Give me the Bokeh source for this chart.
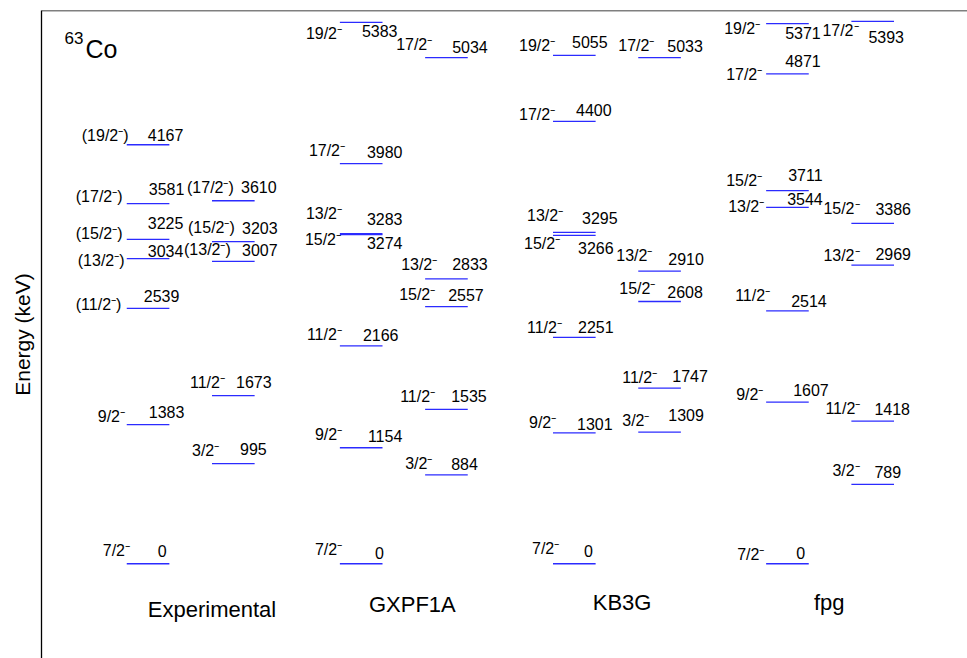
from bokeh.plotting import figure
from bokeh.models import Range1d, Span, ColumnDataSource
from bokeh.core.properties import value
from bokeh.embed import file_html
from bokeh.resources import INLINE

# ---------------- data ----------------
models = ["Experimental", "GXPF1A", "KB3G", "fpg"]

exp_energy = [0, 1383, 2539, 3034, 3225, 3581, 4167, 995, 1673, 3007, 3203, 3610]
exp_spin = ["7/2⁻", "9/2⁻", "(11/2⁻)", "(13/2⁻)", "(15/2⁻)", "(17/2⁻)", "(19/2⁻)",
            "3/2⁻", "11/2⁻", "(13/2⁻)", "(15/2⁻)", "(17/2⁻)"]
exp_column = [0, 0, 0, 0, 0, 0, 0, 1, 1, 1, 1, 1]

gx_energy = [0, 1154, 2166, 3274, 3283, 3980, 5383, 884, 1535, 2557, 2833, 5034]
gx_spin = ["7/2⁻", "9/2⁻", "11/2⁻", "15/2⁻", "13/2⁻", "17/2⁻", "19/2⁻",
           "3/2⁻", "11/2⁻", "15/2⁻", "13/2⁻", "17/2⁻"]
gx_column = [0, 0, 0, 0, 0, 0, 0, 1, 1, 1, 1, 1]

kb_energy = [0, 1301, 2251, 3266, 3295, 4400, 5055, 1309, 1747, 2608, 2910, 5033]
kb_spin = ["7/2⁻", "9/2⁻", "11/2⁻", "15/2⁻", "13/2⁻", "17/2⁻", "19/2⁻",
           "3/2⁻", "11/2⁻", "15/2⁻", "13/2⁻", "17/2⁻"]
kb_column = [0, 0, 0, 0, 0, 0, 0, 1, 1, 1, 1, 1]

fpg_energy = [0, 1607, 2514, 3544, 3711, 4871, 5371, 789, 1418, 2969, 3386, 5393]
fpg_spin = ["7/2⁻", "9/2⁻", "11/2⁻", "13/2⁻", "15/2⁻", "17/2⁻", "19/2⁻",
            "3/2⁻", "11/2⁻", "13/2⁻", "15/2⁻", "17/2⁻"]
fpg_column = [0, 0, 0, 0, 0, 0, 0, 1, 1, 1, 1, 1]

# ---------------- label layout (screen-pixel offsets from line start) ----------------
exp_spin_dx = [-24, -29, -51, -49, -51, -51, -45, -20, -22, -28, -24, -25]
exp_spin_dy = [-12.8, -8.3, -3.7, 1.8, -6, -6.7, -9, -13.3, -13.3, -11.4, -14.2, -13.2]
exp_en_dx = [31, 22, 17, 21, 21, 22, 21, 28, 24, 30, 30, 29]
exp_en_dy = [-12.5, -12.6, -12.2, -7.9, -16.2, -14.2, -10.2, -14.3, -13.3, -10.9, -13.2, -14]

gx_spin_dx = [-25, -25, -33, -35, -34, -31, -34, -20, -25, -26, -24, -29]
gx_spin_dy = [-14.1, -12.8, -11.2, 4.8, -20.2, -13, 10.8, -11.6, -13, -11.7, -14.4, -12.8]
gx_en_dx = [35, 28, 23, 27, 27, 27, 22, 26, 26, 23, 27, 27]
gx_en_dy = [-10.3, -12.1, -10.9, 8.4, -14.7, -11.8, 8.1, -10.8, -13.2, -11.9, -15.2, -10.5]

kb_spin_dx = [-21, -24, -26, -29, -26, -34, -34, -16, -16, -19, -22, -20]
kb_spin_dy = [-15, -10, -10.4, 8.4, -16.8, -6.7, -9.7, -11.7, -10.5, -12.7, -15.2, -12.5]
kb_en_dx = [31, 24, 25, 25, 29, 23, 19, 30, 34, 29, 30, 29]
kb_en_dy = [-12.5, -9.4, -10.9, 12.6, -14.3, -11.5, -13.2, -17.2, -12.2, -9.3, -12.2, -11.2]

fpg_spin_dx = [-29, -30, -31, -38, -40, -40, -42, -19, -26, -28, -28, -29]
fpg_spin_dy = [-9.6, -8, -15.7, -1, -10, 0.7, 4.7, -14, -12.4, -10, -14.4, 9]
fpg_en_dx = [30, 27, 25, 21, 22, 19, 19, 23, 23, 24, 24, 17]
fpg_en_dy = [-10.3, -12.2, -10.2, -8.7, -15.2, -12.5, 9.5, -12.2, -11.9, -11.7, -14.4, 15.5]

title_x = [2.0, 4.35, 6.81, 9.24]
title_y = [-459, -407, -390, -390]

FONT = value("Liberation Sans")

p = figure(width=967, height=658, output_backend="svg", toolbar_location=None,
           x_range=Range1d(0, 926 / 85.25), y_range=Range1d(-942, 5502),
           min_border_left=41, min_border_top=10, min_border_right=0, min_border_bottom=0)
p.outline_line_color = None
p.grid.visible = False
p.xaxis.visible = False
p.yaxis.ticker = []
p.yaxis.major_tick_line_color = None
p.yaxis.minor_tick_line_color = None
p.yaxis.major_label_text_font_size = "0px"
p.yaxis.major_label_standoff = 0
p.yaxis.axis_line_width = 1.3
p.yaxis.axis_line_color = "black"
p.yaxis.axis_label = "Energy (keV)"
p.yaxis.axis_label_text_font = "Liberation Sans"
p.yaxis.axis_label_text_font_style = "normal"
p.yaxis.axis_label_text_font_size = "21px"
p.yaxis.axis_label_text_color = "black"
p.yaxis.axis_label_standoff = 8

p.add_layout(Span(location=5502, dimension="width", line_color="black", line_width=1.3))

all_models = [
    (exp_energy, exp_spin, exp_column, exp_spin_dx, exp_spin_dy, exp_en_dx, exp_en_dy),
    (gx_energy, gx_spin, gx_column, gx_spin_dx, gx_spin_dy, gx_en_dx, gx_en_dy),
    (kb_energy, kb_spin, kb_column, kb_spin_dx, kb_spin_dy, kb_en_dx, kb_en_dy),
    (fpg_energy, fpg_spin, fpg_column, fpg_spin_dx, fpg_spin_dy, fpg_en_dx, fpg_en_dy),
]

for m, (en, sp, col, sdx, sdy, edx, edy) in enumerate(all_models):
    x0 = [1.0 + 2.5 * m + c for c in col]
    x1 = [x + 0.5 for x in x0]
    src = ColumnDataSource(dict(x0=x0, x1=x1, y=en, spin=sp, etxt=[str(e) for e in en],
                                sdx=sdx, sdy=sdy, edx=edx, edy=edy))
    p.segment(x0="x0", y0="y", x1="x1", y1="y", source=src, line_color="#2b2bff", line_width=1.3)
    p.text(x="x0", y="y", text="spin", x_offset="sdx", y_offset="sdy", source=src,
           text_font=FONT, text_font_size="16px", text_baseline="middle", text_align="left",
           text_color="black")
    p.text(x="x0", y="y", text="etxt", x_offset="edx", y_offset="edy", source=src,
           text_font=FONT, text_font_size="16px", text_baseline="middle", text_align="left",
           text_color="black")

p.text(x=title_x, y=title_y, text=models, text_font=FONT, text_font_size="22px",
       text_baseline="middle", text_align="center", text_color="black")

# nucleus label
p.text(x=[0.516], y=[5124], text=["Co"], text_font=FONT, text_font_size="25px",
       text_baseline="middle", text_align="left", text_color="black")
p.text(x=[0.27], y=[5229], text=["63"], text_font=FONT, text_font_size="17px",
       text_baseline="middle", text_align="left", text_color="black")

open("out.html", "w").write(file_html(p, INLINE))
